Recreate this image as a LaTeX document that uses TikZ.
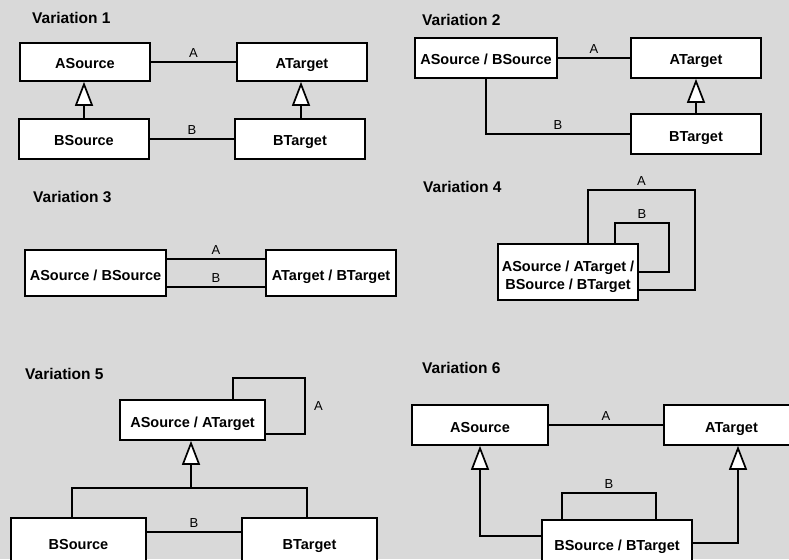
\documentclass[tikz,border=0pt]{standalone}
\usepackage{fontspec}
\setmainfont{Liberation Sans}
\usetikzlibrary{arrows.meta}
\definecolor{bgGray}{RGB}{217,217,217}
\tikzset{
  cls/.style={draw, fill=white, line width=1.7pt, inner sep=1pt, align=center,
    text height=14pt, text depth=0pt,
    font=\fontsize{14.5}{18}\selectfont\bfseries},
  title/.style={anchor=west, inner sep=0pt, font=\fontsize{15.5}{18}\selectfont\bfseries},
  lbl/.style={font=\fontsize{13}{15}\selectfont},
  assoc/.style={line width=1.7pt},
  gen/.style={line width=1.7pt, -{Triangle[length=24pt,width=18pt,fill=white]}},
}
\begin{document}
\begin{tikzpicture}[x=1pt,y=1pt,yscale=-1,xscale=1]
        \useasboundingbox (0,0) rectangle (789,559);
        \clip (0,0) rectangle (789,559);
        \fill[bgGray] (0,0) rectangle (789,559);

        % Variation 1
        \node[title] (t1) at (32,18) {Variation 1};
        \node[cls, minimum width=130pt, minimum height=38pt] (as1) at (85,62) {ASource};
        \node[cls, minimum width=130pt, minimum height=38pt] (at1) at (302,62) {ATarget};
        \node[cls, minimum width=130pt, minimum height=40pt] (bs1) at (84,139) {BSource};
        \node[cls, minimum width=130pt, minimum height=40pt] (bt1) at (300,139) {BTarget};
        % Connection
        \draw[assoc] (as1) -- node[lbl,above]{A} (at1);
        \draw[assoc] (bs1) -- node[lbl,above]{B} (bt1);
        \draw[gen] (bs1.north) -- (bs1.north |- as1.south);
        \draw[gen] ([xshift=1pt]bt1.north) -- ([xshift=1pt]bt1.north |- at1.south);

        % Variation 2
        \node[title] (t2) at (422,20) {Variation 2};
        \node[cls, minimum width=142pt, minimum height=40pt] (asbs2) at (486,58) {ASource / BSource};
        \node[cls, minimum width=130pt, minimum height=40pt] (at2) at (696,58) {ATarget};
        \node[cls, minimum width=130pt, minimum height=40pt] (bt2) at (696,134) {BTarget};
        % Connection
        \draw[assoc] (asbs2) -- node[lbl,above]{A} (at2);
        \draw[assoc] (asbs2.south) |- node[lbl,above,pos=0.75]{B} (bt2.west);
        \draw[gen] (bt2.north) -- (at2.south);

        % Variation 3
        \node[title] (t3) at (33,197) {Variation 3};
        \node[cls, minimum width=141pt, minimum height=46pt] (asbs3) at (95.5,273) {ASource / BSource};
        \node[cls, minimum width=130pt, minimum height=46pt] (atbt3) at (331,273) {ATarget / BTarget};
        % Connection
        \draw[assoc] ([yshift=-14pt]asbs3.east) -- node[lbl,above]{A} ([yshift=-14pt]atbt3.west);
        \draw[assoc] ([yshift=14pt]asbs3.east) -- node[lbl,above]{B} ([yshift=14pt]atbt3.west);

        % Variation 4
        \node[title] (t4) at (423,187) {Variation 4};
        \node[cls, minimum width=140pt, minimum height=56pt, text height=34pt] (all4) at (568,272) {ASource / ATarget /\\BSource / BTarget};
        \coordinate (la4) at (695,190);
        \coordinate (lb4) at (669,223);
        % Connection
        \draw[assoc] ([xshift=20pt]all4.north) |- node[lbl,above,pos=0.75]{A} (la4) |- ([yshift=18pt]all4.east);
        \draw[assoc] ([xshift=47pt]all4.north) |- node[lbl,above,pos=0.75]{B} (lb4) |- (all4.east);

        % Variation 5
        \node[title] (t5) at (25,374) {Variation 5};
        \node[cls, minimum width=145pt, minimum height=40pt] (aa5) at (192.5,420) {ASource / ATarget};
        \node[cls, minimum width=135pt, minimum height=48pt] (bs5) at (78.5,542) {BSource};
        \node[cls, minimum width=135pt, minimum height=48pt] (bt5) at (309.5,542) {BTarget};
        \coordinate (la5) at (305,378);
        \coordinate (j5) at (191,488);
        % Connection
        \draw[assoc] ([xshift=40.5pt]aa5.north) |- (la5) |- node[lbl,right=5pt,pos=0.25]{A} ([yshift=14pt]aa5.east);
        \draw[gen] (j5) -- (j5 |- aa5.south);
        \draw[assoc] ([xshift=-6.5pt]bs5.north) |- (j5) -| ([xshift=-2.5pt]bt5.north);
        \draw[assoc] ([yshift=-10pt]bs5.east) -- node[lbl,above]{B} ([yshift=-10pt]bt5.west);

        % Variation 6
        \node[title] (t6) at (422,368) {Variation 6};
        \node[cls, minimum width=136pt, minimum height=40pt] (as6) at (480,425) {ASource};
        \node[cls, minimum width=135pt, minimum height=40pt] (at6) at (731.5,425) {ATarget};
        \node[cls, minimum width=150pt, minimum height=46pt] (bsbt6) at (617,543) {BSource / BTarget};
        % Connection
        \draw[assoc] (as6) -- node[lbl,above]{A} (at6);
        \draw[gen] ([yshift=-7pt]bsbt6.west) -| (as6.south);
        \draw[gen] (bsbt6.east) -| ([xshift=6.5pt]at6.south);
        \draw[assoc] ([xshift=-55pt]bsbt6.north) -- ++(0,-26) -- node[lbl,above]{B} ++(94,0) -- ([xshift=39pt]bsbt6.north);

\end{tikzpicture}
\end{document}
